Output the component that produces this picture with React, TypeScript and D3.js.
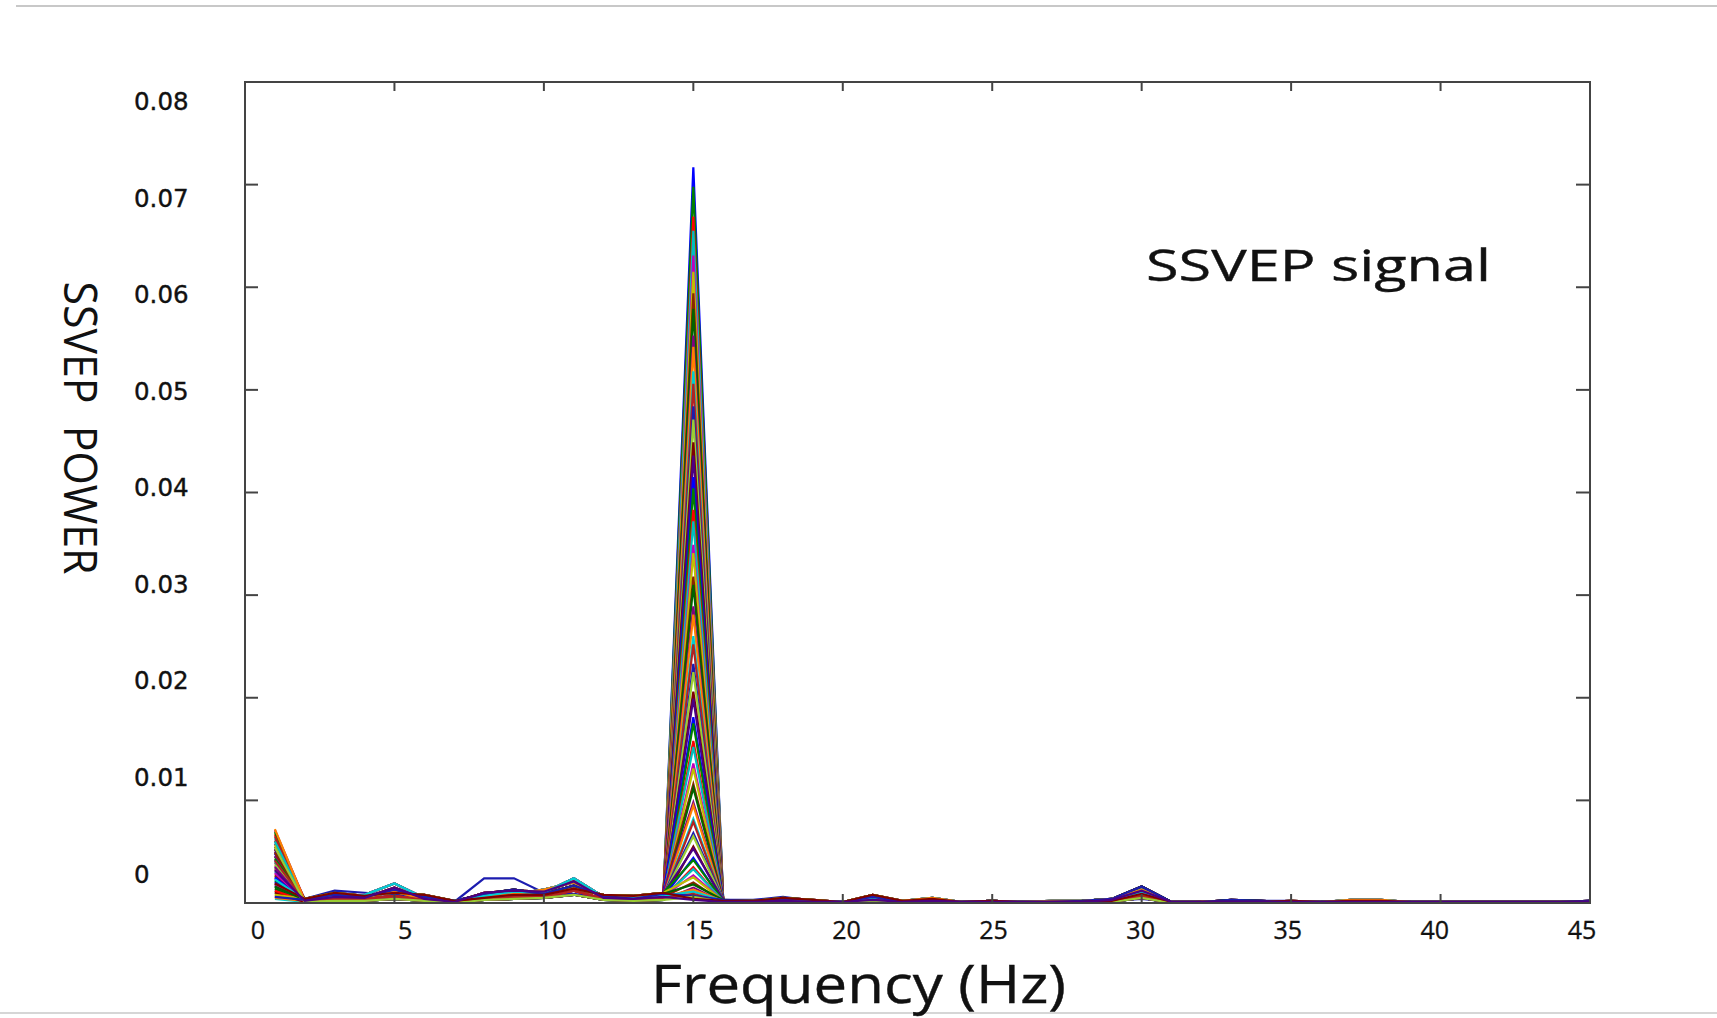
import React from 'react'
import * as d3 from 'd3'

// frequency bins of the spectrum (Hz)
const freqHz = [
  1, 2, 3, 4, 5, 6, 7, 8, 9, 10, 11, 12, 13, 14, 15,
  16, 17, 18, 19, 20, 21, 22, 23, 24, 25, 26, 27, 28, 29, 30,
  31, 32, 33, 34, 35, 36, 37, 38, 39, 40, 41, 42, 43, 44, 45,
]
const freqTicks = [0, 5, 10, 15, 20, 25, 30, 35, 40, 45]
const powerTicks = [0, 0.01, 0.02, 0.03, 0.04, 0.05, 0.06, 0.07, 0.08]
const powerTickLabels = ['0', '0.01', '0.02', '0.03', '0.04', '0.05', '0.06', '0.07', '0.08']

// background spectra (1 Hz and 15 Hz slots are filled per trial below)
const bgProfiles = [
  [0, .0004, .0012, .0010, .0008, .0007, .0001, .0024, .0024, .0010, .0009, .0005, .0006, .0008, 0,
    .0003, .0003, .0006, .0002, .0001, .0007, .0002, .0002, .0001, .0002, .0001, .0001, .0001, .0002, .0004,
    .0001, .0001, .0001, .0002, .0002, .0001, .0001, .0001, .0001, .0001, .0001, .0001, .0001, .0001, .0002],
  [0, .0003, .0007, .0008, .0019, .0005, .0002, .0007, .0011, .0010, .0024, .0006, .0005, .0007, 0,
    .0002, .0001, .0003, .0002, .0001, .0004, .0001, .0003, .0001, .0001, .0001, .0001, .0001, .0003, .0010,
    .0001, .0001, .0002, .0001, .0001, .0001, .0001, .0001, .0001, .0001, .0001, .0001, .0001, .0001, .0001],
  [0, .0002, .0005, .0006, .0011, .0004, .0001, .0006, .0009, .0013, .0020, .0006, .0006, .0006, 0,
    .0002, .0002, .0002, .0001, .0001, .0005, .0002, .0005, .0001, .0002, .0001, .0002, .0002, .0004, .0013,
    .0001, .0001, .0001, .0001, .0001, .0001, .0003, .0003, .0001, .0001, .0001, .0001, .0001, .0001, .0001],
  [0, .0002, .0004, .0004, .0007, .0003, .0001, .0004, .0006, .0006, .0012, .0004, .0003, .0005, 0,
    .0001, .0001, .0002, .0001, .0000, .0003, .0001, .0002, .0000, .0001, .0000, .0001, .0001, .0002, .0007,
    .0000, .0001, .0001, .0000, .0001, .0000, .0001, .0001, .0000, .0000, .0000, .0000, .0000, .0000, .0001],
  [0, .0003, .0008, .0006, .0013, .0006, .0002, .0009, .0013, .0009, .0017, .0007, .0004, .0009, 0,
    .0003, .0002, .0004, .0002, .0001, .0006, .0001, .0003, .0001, .0002, .0001, .0001, .0002, .0004, .0016,
    .0001, .0001, .0003, .0002, .0001, .0001, .0001, .0001, .0001, .0001, .0001, .0001, .0001, .0001, .0002],
  [0, .0001, .0002, .0002, .0004, .0002, .0000, .0003, .0004, .0005, .0008, .0003, .0002, .0003, 0,
    .0001, .0000, .0001, .0001, .0000, .0002, .0000, .0001, .0000, .0000, .0000, .0000, .0000, .0001, .0005,
    .0000, .0000, .0000, .0000, .0000, .0000, .0000, .0000, .0000, .0000, .0000, .0000, .0000, .0000, .0000],
  [0, .0004, .0010, .0007, .0010, .0008, .0002, .0005, .0008, .0008, .0014, .0008, .0007, .0010, 0,
    .0002, .0002, .0005, .0003, .0001, .0008, .0002, .0004, .0001, .0002, .0001, .0001, .0001, .0002, .0009,
    .0001, .0001, .0001, .0001, .0002, .0001, .0002, .0002, .0001, .0001, .0001, .0001, .0001, .0001, .0001],
  [0, .0002, .0006, .0005, .0015, .0004, .0001, .0010, .0012, .0011, .0021, .0005, .0004, .0006, 0,
    .0001, .0001, .0002, .0001, .0001, .0003, .0001, .0002, .0001, .0001, .0001, .0001, .0001, .0003, .0012,
    .0001, .0001, .0001, .0001, .0001, .0001, .0001, .0001, .0001, .0001, .0001, .0001, .0001, .0001, .0001],
]

const profileOfTrial = [
  1, 2, 3, 4, 5, 6, 7, 2, 1, 4, 3, 6, 5, 7, 1, 3, 2, 5, 4, 7, 6,
  2, 4, 1, 3, 7, 5, 6, 3, 1, 2, 6, 4, 5, 7, 1, 2, 3, 4, 5, 6, 7,
  2, 3, 0, 1, 5, 4, 7, 6, 3, 2, 1, 6, 7, 4, 5, 2, 1, 3, 4, 5, 6, 7,
]

// power at 1 Hz for each trial
const pow1Hz = [
  0.0021, 0.0045, 0.0012, 0.0063, 0.0030, 0.0008, 0.0052, 0.0017, 0.0071, 0.0026,
  0.0010, 0.0039, 0.0058, 0.0015, 0.0033, 0.0006, 0.0048, 0.0022, 0.0067, 0.0013,
  0.0036, 0.0009, 0.0055, 0.0019, 0.0042, 0.0028, 0.0004, 0.0061, 0.0016, 0.0034,
  0.0011, 0.0050, 0.0024, 0.0069, 0.0007, 0.0040, 0.0018, 0.0057, 0.0027, 0.0014,
  0.0046, 0.0005, 0.0031, 0.0065, 0.0020, 0.0037, 0.0010, 0.0053, 0.0025, 0.0043,
  0.0012, 0.0060, 0.0029, 0.0008, 0.0049, 0.0016, 0.0035, 0.0072, 0.0023, 0.0041,
  0.0006, 0.0054, 0.0019, 0.0032,
]

// power at the 15 Hz stimulation frequency for each trial
const pow15Hz = [
  0.0717, 0.0698, 0.0669, 0.0655, 0.0631, 0.0615, 0.0594, 0.0579, 0.0553, 0.0542,
  0.0518, 0.0506, 0.0484, 0.0471, 0.0449, 0.0436, 0.0415, 0.0404, 0.0383, 0.0372,
  0.0349, 0.0341, 0.0318, 0.0310, 0.0289, 0.0281, 0.0260, 0.0252, 0.0233, 0.0225,
  0.0206, 0.0199, 0.0181, 0.0175, 0.0158, 0.0152, 0.0136, 0.0131, 0.0116, 0.0112,
  0.0098, 0.0095, 0.0082, 0.0079, 0.0068, 0.0065, 0.0055, 0.0053, 0.0044, 0.0042,
  0.0035, 0.0033, 0.0027, 0.0025, 0.0020, 0.0018, 0.0015, 0.0013, 0.0011, 0.0009,
  0.0007, 0.0006, 0.0004, 0.0003,
]

const palette = [
  '#0000ff', '#008000', '#ff0000', '#00bfbf', '#bf00bf', '#bfbf00', '#8b2500', '#006400',
  '#800080', '#ff8000', '#00ced1', '#b22222', '#1c1cb0', '#9acd32', '#800000', '#4b0082',
]

const W = 1717
const H = 1018
const left = 245, right = 1590, top = 82, bottom = 903

function App() {
  const x = d3.scaleLinear().domain([0, 45]).range([left, right])
  const y = d3.scaleLinear().domain([0, 0.08]).range([bottom, top])
  // tick labels sit a little off the tick marks in the original figure
  const xLab = d3.scaleLinear().domain([0, 45]).range([258, 1582])
  const yLab = d3.scaleLinear().domain([0, 0.08]).range([874, 101.5])

  const line = d3.line<number>()
    .x((_, i) => x(freqHz[i]))
    .y(d => y(d))

  const trials = pow15Hz.map((p15, i) => {
    const vals = bgProfiles[profileOfTrial[i]].slice()
    vals[0] = pow1Hz[i]
    vals[14] = p15
    return vals
  })

  return (
    <svg width={W} height={H} style={{ position: 'absolute', left: 0, top: 0, background: '#fff' }}>
      <line x1={16} x2={W} y1={6} y2={6} stroke="#c8c8c8" strokeWidth={2} />
      <line x1={0} x2={W} y1={1013} y2={1013} stroke="#c8c8c8" strokeWidth={1.5} />

      <g>
        {trials.map((vals, i) => (
          <path key={i} d={line(vals) || ''} fill="none"
            stroke={palette[i % palette.length]} strokeWidth={2.2} strokeLinejoin="miter" />
        ))}
      </g>

      <g stroke="#444" strokeWidth={2}>
        <rect x={left} y={top} width={right - left} height={bottom - top} fill="none" />
        {powerTicks.slice(1, -1).map(t => (
          <g key={t}>
            <line x1={left} x2={left + 13} y1={y(t)} y2={y(t)} />
            <line x1={right} x2={right - 14} y1={y(t)} y2={y(t)} />
          </g>
        ))}
        {freqTicks.slice(1, -1).map(t => (
          <g key={t}>
            <line x1={x(t)} x2={x(t)} y1={top} y2={top + 9} />
            <line x1={x(t)} x2={x(t)} y1={bottom} y2={bottom - 9} />
          </g>
        ))}
      </g>

      <g fontFamily="DejaVu Sans" fontSize={24.5} fill="#111" stroke="#111" strokeWidth={0.4}>
        {powerTicks.map((t, i) => (
          <text key={t} x={134} y={yLab(t)} dominantBaseline="central">{powerTickLabels[i]}</text>
        ))}
      </g>
      <g fontFamily="Open Sans" fontSize={25} fill="#111" stroke="#111" strokeWidth={0.3}>
        {freqTicks.map(t => (
          <text key={t} x={xLab(t)} y={929} textAnchor="middle" dominantBaseline="central">{t}</text>
        ))}
      </g>

      <text x={1146} y={281} fontFamily="Open Sans" fontSize={44} fill="#111" stroke="#111" strokeWidth={0.4}
        textLength={345} lengthAdjust="spacingAndGlyphs">SSVEP signal</text>
      <text x={651} y={1003} fontFamily="Open Sans" fontSize={53} fill="#111" stroke="#111" strokeWidth={0.4}
        textLength={415} lengthAdjust="spacingAndGlyphs">Frequency (Hz)</text>
      <text transform="translate(81,428) rotate(90)" textAnchor="middle" dominantBaseline="central"
        fontFamily="Open Sans" fontSize={45} fill="#111" style={{ whiteSpace: 'pre' }}
        textLength={293} lengthAdjust="spacingAndGlyphs">{'SSVEP  POWER'}</text>
    </svg>
  )
}

export default App
